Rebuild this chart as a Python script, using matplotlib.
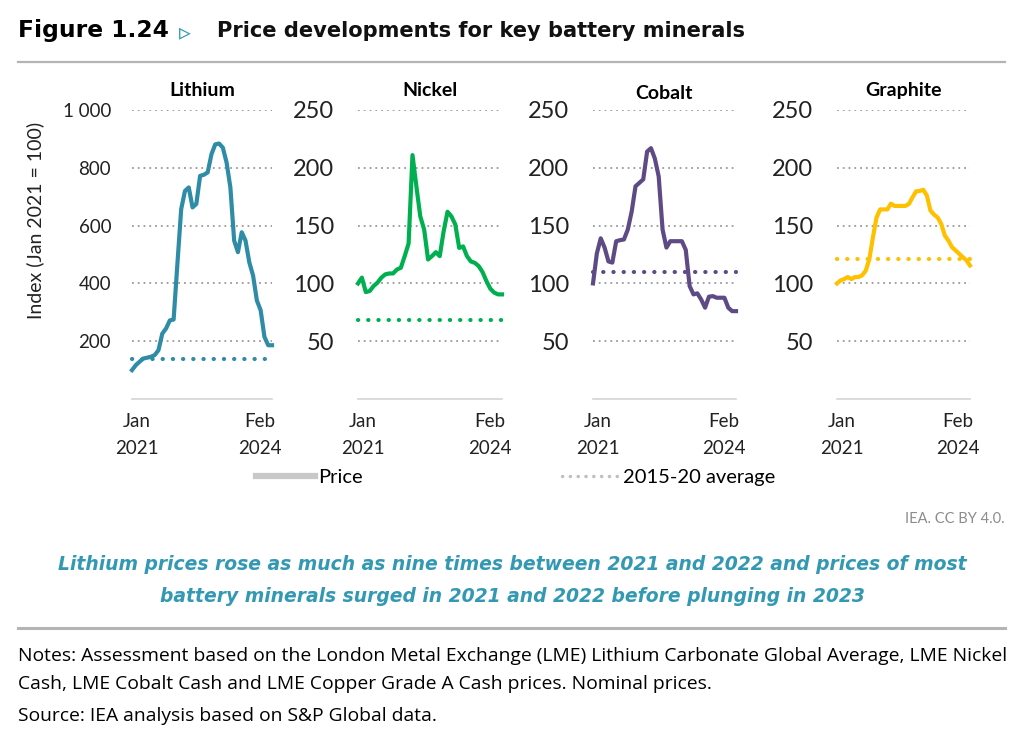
import matplotlib
matplotlib.use("Agg")
import matplotlib.pyplot as plt
import matplotlib.transforms as mtransforms
from matplotlib.lines import Line2D
import numpy as np
import pandas as pd

# ---------------- data ----------------
months = pd.date_range("2021-01-01", "2024-02-01", freq="MS")
minerals = ["Lithium", "Nickel", "Cobalt", "Graphite"]

lithium = [100, 117, 129, 140, 143, 146, 152, 169, 226, 244, 272, 275, 468, 657, 720, 732,
           663, 675, 772, 776, 784, 847, 881, 884, 870, 818, 732, 548, 508, 577, 548, 473,
           427, 341, 307, 215, 186, 186]
nickel = [100, 105, 92.5, 93.4, 97.7, 100.6, 105, 107.8, 108.6, 108.6, 112, 113.5, 123.6,
          134.5, 211, 184, 158, 146.6, 120.7, 123.6, 127, 123.6, 145, 162, 158, 151, 130.7,
          132, 123.6, 119, 117.8, 115, 109.8, 102, 95.4, 92, 90.5, 90.5]
cobalt = [100, 126, 139, 131, 119, 118, 136.5, 137.4, 138, 146.6, 162, 184, 187, 190, 214,
          217, 208, 192.5, 146.6, 131, 136.5, 136.5, 136.5, 136.5, 129, 97.7, 90.5, 91.4, 86,
          79, 88.5, 89, 87.6, 87.6, 87.6, 79, 76, 76]
graphite = [100, 102.6, 103.7, 105.5, 103.7, 105.5, 105.5, 107, 111, 121, 140, 157, 164, 164,
            164, 169, 167, 167, 167, 167, 168.7, 174.4, 179.6, 180, 181, 176, 163, 159.5, 157,
            151.4, 141.4, 137, 131.3, 128.5, 125.6, 122.7, 120, 115.5]
averages_2015_20 = [137, 68, 110, 121]

y_ticks_lithium = [200, 400, 600, 800, 1000]
y_ticklabels_lithium = ["200", "400", "600", "800", "1 000"]
y_ticks_other = [50, 100, 150, 200, 250]
y_ticklabels_other = ["50", "100", "150", "200", "250"]
x_ticklabels = ["Jan\n2021", "Feb\n2024"]

series = [lithium, nickel, cobalt, graphite]
colors = ["#2F8CA6", "#00B050", "#5E4B85", "#FFC000"]

# ---------------- figure ----------------
W, H = 1024, 729
fig = plt.figure(figsize=(W / 100, H / 100), dpi=100)
fig.patch.set_facecolor("white")
FONT = "Lato"


def fx(px):
    return px / W


def fy(py):
    return 1 - py / H


# title
fig.text(fx(18), fy(31), "Figure 1.24", fontsize=16.8, fontweight="bold",
         family="DejaVu Sans", va="center", ha="left", color="black")
fig.text(fx(179), fy(32), "\u25B9", fontsize=17, family="DejaVu Sans",
         va="center", ha="left", color="#2F9BB5")
fig.text(fx(217), fy(31), "Price developments for key battery minerals", fontsize=15.1,
         fontweight="bold", family="DejaVu Sans", va="center", ha="left", color="#111111")

# rules
fig.add_artist(Line2D([fx(18), fx(1005)], [fy(62), fy(62)], color="#b4b4b4", lw=1.6,
                      transform=fig.transFigure))
fig.add_artist(Line2D([fx(18), fx(1005)], [fy(628), fy(628)], color="#b4b4b4", lw=2.2,
                      transform=fig.transFigure))

# axes
axes_px = [(132, 272), (358, 502), (593, 736), (837, 970)]
top_px, bottom_px = 110, 399
x = np.arange(len(months))

for i, (name, vals, col, avg, (l, r)) in enumerate(
        zip(minerals, series, colors, averages_2015_20, axes_px)):
    ax = fig.add_axes([fx(l), fy(bottom_px), (r - l) / W, (bottom_px - top_px) / H])
    ax.set_facecolor("none")
    if i == 0:
        ax.set_ylim(0, 1000)
        ax.set_yticks(y_ticks_lithium)
        ax.set_yticklabels(y_ticklabels_lithium, fontsize=13.5, family=FONT, color="#222222")
        ax.tick_params(axis="y", length=0, pad=15)
    else:
        ax.set_ylim(0, 250)
        ax.set_yticks(y_ticks_other)
        ax.set_yticklabels(y_ticklabels_other, fontsize=17, family=FONT, color="#222222")
        ax.tick_params(axis="y", length=0, pad=17)
    ax.set_xlim(0, len(months) - 1)
    ax.grid(axis="y", linestyle=(0, (1, 2.2)), color="#9a9a9a", lw=1.3)
    ax.set_axisbelow(True)
    for s in ["top", "right", "left"]:
        ax.spines[s].set_visible(False)
    ax.spines["bottom"].set_color("#d4d4d4")
    ax.spines["bottom"].set_linewidth(1.2)

    ax.plot(x, [avg] * len(x), color=col, lw=3.0, linestyle=(0, (0.05, 2.4)),
            dash_capstyle="round", clip_on=False, zorder=3)
    ax.plot(x, vals, color=col, lw=3.0, solid_joinstyle="round", clip_on=False, zorder=4)

    ax.set_xticks([x[0], x[-1]])
    ax.set_xticklabels(x_ticklabels, fontsize=13.5, family=FONT, color="#222222",
                       linespacing=1.7)
    ax.tick_params(axis="x", length=0, pad=10)
    labs = ax.get_xticklabels()
    labs[0].set_transform(labs[0].get_transform() +
                          mtransforms.ScaledTranslation(5 / 100, 0, fig.dpi_scale_trans))
    labs[1].set_transform(labs[1].get_transform() +
                          mtransforms.ScaledTranslation(-12 / 100, 0, fig.dpi_scale_trans))

    ax.set_title(name, fontsize=14, fontweight="bold", family=FONT, color="black",
                 pad=10 if name != "Cobalt" else 8)

# y label
fig.text(fx(35), fy(220), "Index (Jan 2021 = 100)", rotation=90, fontsize=14, family=FONT,
         va="center", ha="center", color="#222222")

# legend
handles = [Line2D([], [], color="#c8c8c8", lw=4.5),
           Line2D([], [], color="#c0c0c0", lw=2.5, linestyle=(0, (0.05, 2.2)),
                  dash_capstyle="round")]
fig.legend(handles, ["Price", "2015-20 average"], loc="center", ncol=2,
           bbox_to_anchor=(fx(516), fy(477)), frameon=False, handlelength=2.9,
           handletextpad=0.15, columnspacing=9.9, borderpad=0, borderaxespad=0,
           prop={"family": FONT, "size": 14.5})

# credit
fig.text(fx(1005), fy(519), "IEA. CC BY 4.0.", fontsize=10.5, family=FONT, color="#8c8c8c",
         ha="right", va="center")

# caption
cap_col = "#3399B3"
fig.text(fx(512), fy(564),
         "Lithium prices rose as much as nine times between 2021 and 2022 and prices of most",
         fontsize=13.5, fontweight="bold", style="italic", family="DejaVu Sans", color=cap_col,
         ha="center", va="center")
fig.text(fx(512), fy(596),
         "battery minerals surged in 2021 and 2022 before plunging in 2023",
         fontsize=13.5, fontweight="bold", style="italic", family="DejaVu Sans", color=cap_col,
         ha="center", va="center")

# notes
notes1 = ("Notes: Assessment based on the London Metal Exchange (LME) Lithium Carbonate "
          "Global Average, LME Nickel")
notes2 = "Cash, LME Cobalt Cash and LME Copper Grade A Cash prices. Nominal prices."
source = "Source: IEA analysis based on S&P Global data."
for yy, t in [(656, notes1), (684, notes2), (716, source)]:
    fig.text(fx(18), fy(yy), t, fontsize=13.9, family="Open Sans", color="black", ha="left",
             va="center")

fig.savefig("out.png", dpi=100, facecolor="white")
